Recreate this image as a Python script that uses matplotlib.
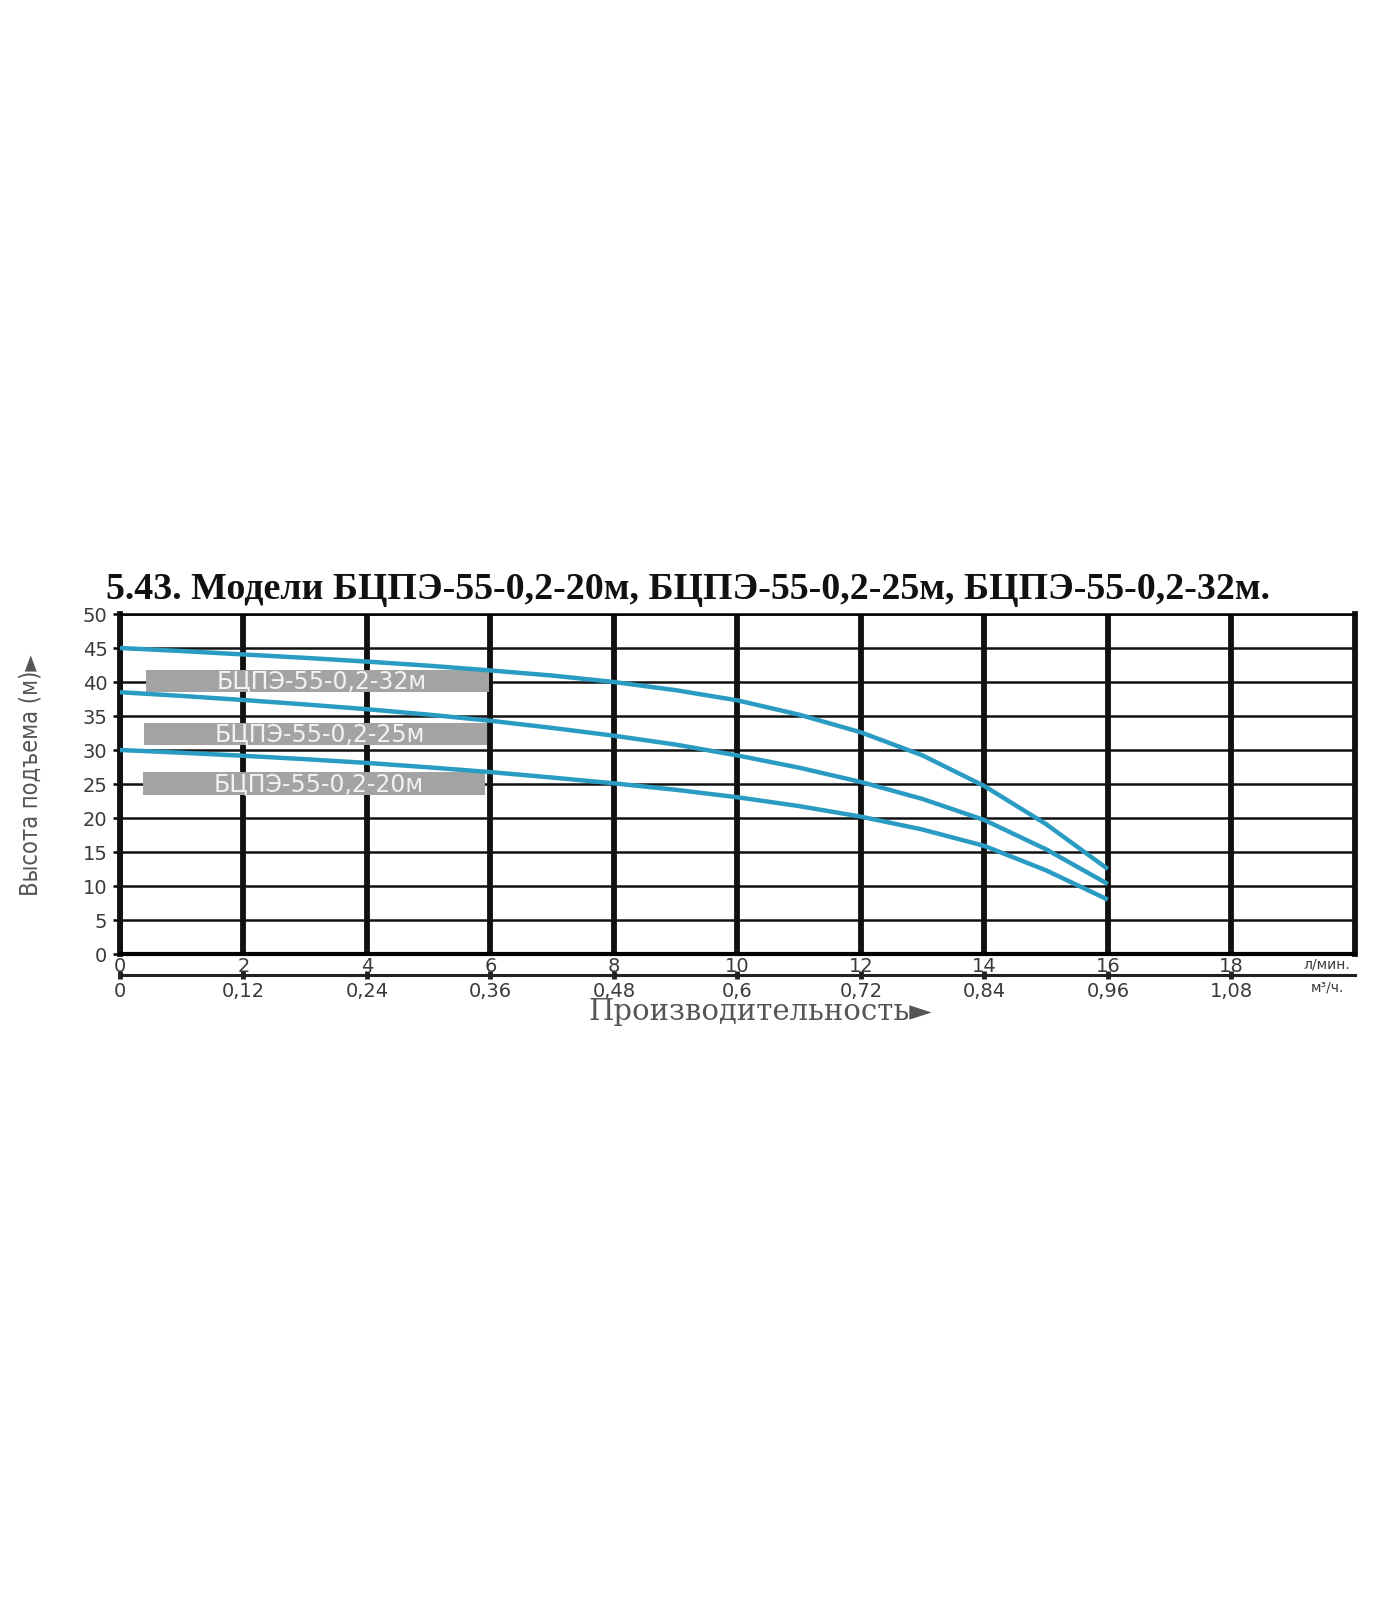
import matplotlib.pyplot as plt
from matplotlib.patches import Rectangle

# Данные кривых (л/мин -> напор, м)
flow_lpm = [0, 1, 2, 3, 4, 5, 6, 7, 8, 9, 10, 11, 12, 13, 14, 15, 16]
head_32m = [45, 44.55, 44.05, 43.55, 43, 42.4, 41.7, 40.95, 40, 38.8, 37.3, 35.2, 32.6, 29.2, 24.7, 19.1, 12.5]
head_25m = [38.5, 37.95, 37.35, 36.7, 36.0, 35.2, 34.3, 33.25, 32.1, 30.8, 29.2, 27.4, 25.3, 22.8, 19.7, 15.4, 10.3]
head_20m = [30, 29.6, 29.15, 28.65, 28.1, 27.45, 26.75, 25.95, 25.1, 24.15, 23.05, 21.75, 20.2, 18.3, 15.9, 12.3, 8.0]
models = ['БЦПЭ-55-0,2-32м', 'БЦПЭ-55-0,2-25м', 'БЦПЭ-55-0,2-20м']

x_ticks = [0, 2, 4, 6, 8, 10, 12, 14, 16, 18]
x_labels_m3h = ['0', '0,12', '0,24', '0,36', '0,48', '0,6', '0,72', '0,84', '0,96', '1,08']
y_ticks = [0, 5, 10, 15, 20, 25, 30, 35, 40, 45, 50]

title = '5.43. Модели БЦПЭ-55-0,2-20м, БЦПЭ-55-0,2-25м, БЦПЭ-55-0,2-32м.'

fig = plt.figure(figsize=(14, 16), dpi=100)
ax = fig.add_axes([0.0857, 0.40375, 0.882, 0.2125])
ax.set_xlim(0, 20)
ax.set_ylim(0, 50)

# сетка
ax.set_xticks(x_ticks)
ax.set_yticks(y_ticks)
ax.grid(axis='x', color='#111111', lw=4.2, zorder=1)
ax.grid(axis='y', color='#111111', lw=1.8, zorder=1)
ax.set_axisbelow(True)
for side in ['left', 'right']:
    ax.spines[side].set_linewidth(4.2)
    ax.spines[side].set_color('#111111')
ax.spines['bottom'].set_linewidth(3)
ax.spines['top'].set_linewidth(1.8)

ax.tick_params(axis='x', length=0, pad=2, labelsize=14, labelcolor='#3a3a3a')
ax.tick_params(axis='y', length=5, width=1.8, pad=4, labelsize=14, labelcolor='#3a3a3a')

# кривые
color = '#2a9cc4'
for heads in [head_32m, head_25m, head_20m]:
    ax.plot(flow_lpm, heads, color=color, lw=3.2, zorder=4, solid_capstyle='butt')

# подписи моделей в серых плашках
boxes = [(0.42, 38.5), (0.39, 30.7), (0.37, 23.4)]
for (bx, by), name in zip(boxes, models):
    ax.add_patch(Rectangle((bx, by), 5.55, 3.3, facecolor='#a3a3a3', edgecolor='none', zorder=3))
    ax.text(bx + 2.85, by + 1.6, name, color='#f2f2f2', fontsize=17, ha='center', va='center',
            family='DejaVu Sans', zorder=3.5)

# вторая шкала (м3/ч)
sec = ax.secondary_xaxis(-0.062)
sec.set_xticks(x_ticks, labels=x_labels_m3h)
sec.spines['bottom'].set_linewidth(2.2)
sec.spines['bottom'].set_color('#222222')
sec.tick_params(direction='inout', length=6, width=3.5, color='#222222', pad=2,
                labelsize=14, labelcolor='#3a3a3a')

ax.text(19.55, -1.5, 'л/мин.', fontsize=10, color='#3a3a3a', ha='center', va='center', clip_on=False)
ax.text(19.55, -4.9, 'м³/ч.', fontsize=10, color='#3a3a3a', ha='center', va='center', clip_on=False)

fig.text(0.4916, 0.6318, title, fontsize=27.3, fontweight='bold', family='Liberation Serif',
         ha='center', va='center', color='#111111')
fig.text(0.022, 0.5156, 'Высота подъема (м)►', rotation=90, fontsize=17,
         family=['DejaVu Sans'], fontstretch='condensed', color='#555555',
         ha='center', va='center')
fig.text(0.543, 0.3672, 'Производительность►', fontsize=21,
         family=['DejaVu Serif', 'DejaVu Sans'], color='#555555',
         ha='center', va='center')

fig.savefig('out.png', dpi=100, facecolor='white')
